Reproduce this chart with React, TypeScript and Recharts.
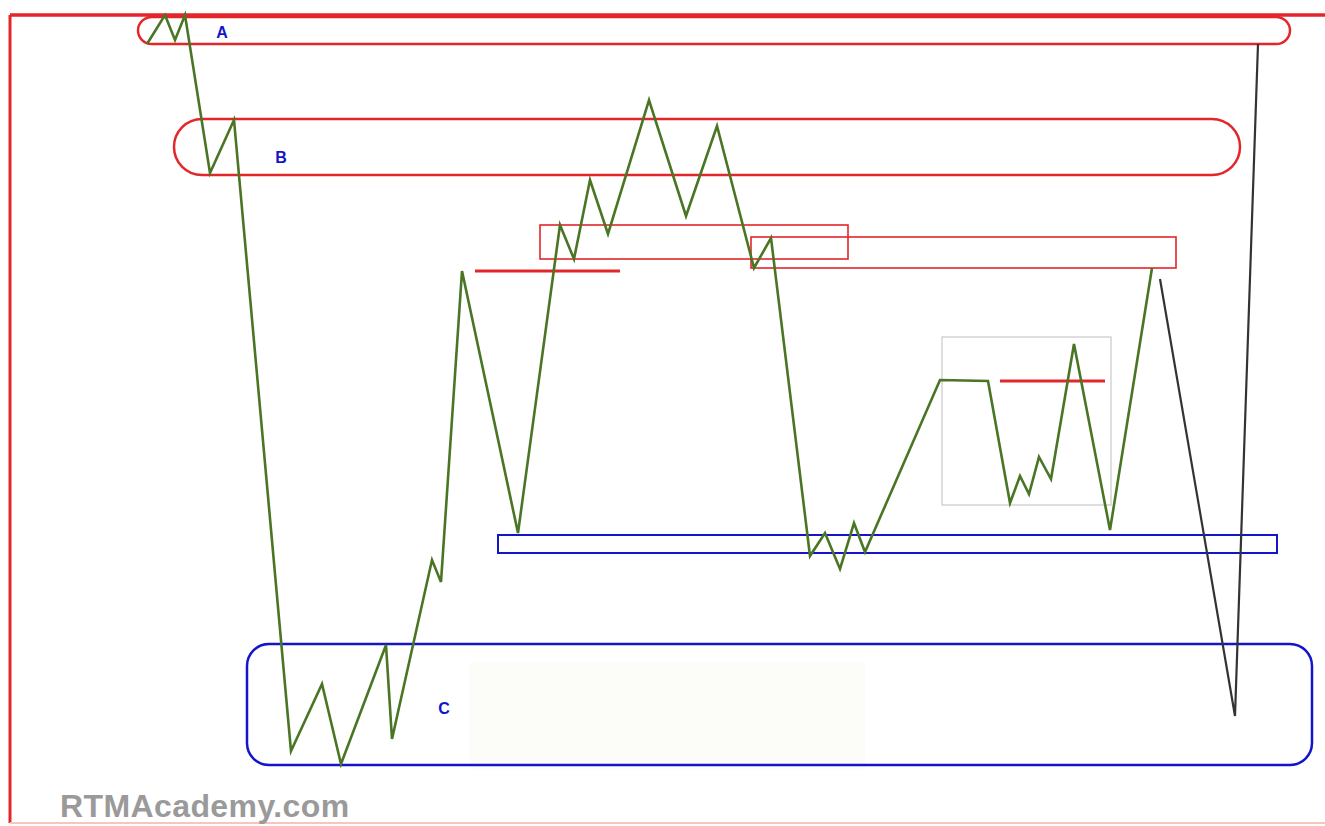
import React from "react";
import {
  ComposedChart,
  Line,
  XAxis,
  YAxis,
  ReferenceArea,
  ReferenceLine,
  ReferenceDot,
} from "recharts";

// Price path (time units across, price units up)
const pathTime = [
  147, 165, 175, 185, 210, 234, 291, 322, 341, 386, 392, 432, 441, 462, 518,
  560, 574, 590, 608, 649, 686, 717, 754, 771, 810, 825, 840, 854, 865, 940,
  988, 1010, 1020, 1029, 1039, 1051, 1074, 1110, 1152,
];
const pathPrice = [
  782, 811, 786, 811, 653, 706, 75, 142, 62, 181, 87, 266, 244, 555, 293, 601,
  567, 646, 592, 726, 610, 700, 558, 588, 270, 293, 257, 303, 274, 446, 445,
  323, 350, 332, 369, 347, 482, 296, 558,
];

// Projected path (drawn in black)
const projTime = [1160, 1235, 1258];
const projPrice = [547, 110, 782];

// Zones: A, B, two supply boxes, grey box, support band, C, blank panel
const zoneStart = [138, 174, 540, 751, 942, 498, 247, 470];
const zoneEnd = [1290, 1240, 848, 1176, 1111, 1277, 1312, 865];
const zoneLow = [782, 651, 567, 558, 321, 273, 61, 56];
const zoneHigh = [809, 707, 601, 589, 489, 291, 182, 164];

// Short horizontal levels
const levelStart = [475, 1000];
const levelEnd = [620, 1105];
const levelPrice = [555, 445];

// Zone letters
const labelText = ["A", "B", "C"];
const labelTime = [222, 281, 444];
const labelPrice = [794, 669, 118];

const RED = "#e3262a";
const BLUE = "#1414cc";

const zoneStyle = [
  { stroke: RED, width: 2.5, r: 14, fill: "none" },
  { stroke: RED, width: 2.5, r: 28, fill: "none" },
  { stroke: RED, width: 1.6, r: 0, fill: "none" },
  { stroke: RED, width: 1.6, r: 0, fill: "none" },
  { stroke: "#c8c8c8", width: 1.2, r: 0, fill: "none" },
  { stroke: BLUE, width: 2, r: 0, fill: "none" },
  { stroke: BLUE, width: 2.5, r: 22, fill: "none" },
  { stroke: "none", width: 0, r: 0, fill: "#fcfcf8" },
];

const pathData = pathTime.map((t, i) => ({ t, p: pathPrice[i] }));
const projData = projTime.map((t, i) => ({ t, p: projPrice[i] }));

export default function App() {
  // draw the blank panel first so outlines stay on top
  const order = [7, 0, 1, 2, 3, 4, 5, 6];
  return (
    <div
      style={{
        position: "absolute",
        left: 0,
        top: 0,
        width: 1325,
        height: 826,
        background: "#fff",
      }}
    >
      <ComposedChart
        width={1325}
        height={826}
        margin={{ top: 0, right: 0, bottom: 0, left: 0 }}
      >
        <XAxis dataKey="t" type="number" domain={[0, 1325]} hide />
        <YAxis type="number" domain={[0, 826]} hide />

        {order.map((i) => {
          const s = zoneStyle[i];
          return (
            <ReferenceArea
              key={i}
              x1={zoneStart[i]}
              x2={zoneEnd[i]}
              y1={zoneLow[i]}
              y2={zoneHigh[i]}
              ifOverflow="visible"
              shape={(p: any) => (
                <rect
                  x={p.x}
                  y={p.y}
                  width={p.width}
                  height={p.height}
                  rx={s.r}
                  ry={s.r}
                  fill={s.fill}
                  stroke={s.stroke}
                  strokeWidth={s.width}
                />
              )}
            />
          );
        })}

        {levelPrice.map((p, i) => (
          <ReferenceLine
            key={"lvl" + i}
            segment={[
              { x: levelStart[i], y: p },
              { x: levelEnd[i], y: p },
            ]}
            stroke={RED}
            strokeWidth={3}
            ifOverflow="visible"
          />
        ))}

        {/* frame */}
        <ReferenceLine
          segment={[
            { x: 10, y: 3 },
            { x: 10, y: 811 },
          ]}
          stroke={RED}
          strokeWidth={3}
          ifOverflow="visible"
        />
        <ReferenceLine
          segment={[
            { x: 10, y: 811 },
            { x: 1325, y: 811 },
          ]}
          stroke={RED}
          strokeWidth={3.5}
          ifOverflow="visible"
        />
        <ReferenceLine
          segment={[
            { x: 10, y: 3 },
            { x: 1325, y: 3 },
          ]}
          stroke="#f6c7b8"
          strokeWidth={2}
          ifOverflow="visible"
        />

        <Line
          data={pathData}
          dataKey="p"
          type="linear"
          stroke="#4a7524"
          strokeWidth={2.6}
          dot={false}
          activeDot={false}
          isAnimationActive={false}
        />
        <Line
          data={projData}
          dataKey="p"
          type="linear"
          stroke="#333333"
          strokeWidth={2.2}
          dot={false}
          activeDot={false}
          isAnimationActive={false}
        />

        {labelText.map((txt, i) => (
          <ReferenceDot
            key={txt}
            x={labelTime[i]}
            y={labelPrice[i]}
            r={0}
            ifOverflow="visible"
            label={{
              value: txt,
              position: "center",
              fill: BLUE,
              fontSize: 16,
              fontWeight: "bold",
              fontFamily: "Liberation Sans, Arial, sans-serif",
            }}
          />
        ))}
      </ComposedChart>

      <div
        style={{
          position: "absolute",
          left: 60,
          top: 790,
          fontFamily: "'Liberation Sans', Arial, sans-serif",
          fontWeight: "bold",
          fontSize: 32,
          lineHeight: "32px",
          letterSpacing: 0.4,
          color: "#9a9a9a",
          whiteSpace: "nowrap",
        }}
      >
        RTMAcademy.com
      </div>
    </div>
  );
}
